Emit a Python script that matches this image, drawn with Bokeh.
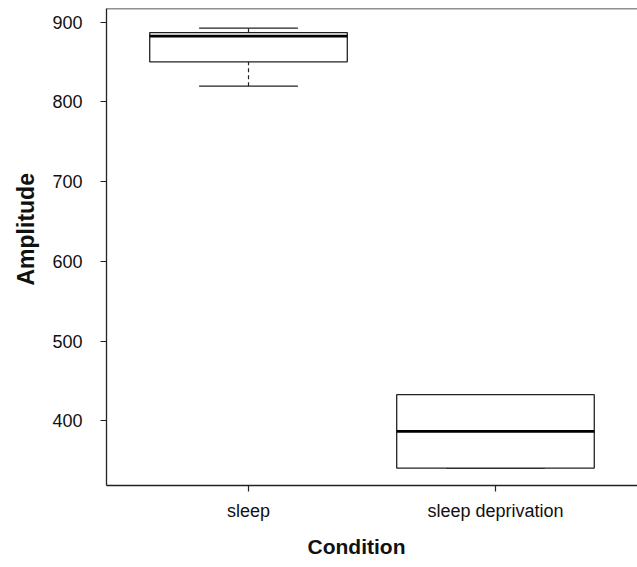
from bokeh.plotting import figure
from bokeh.models import ColumnDataSource, FactorRange, Range1d, Span, Title
from bokeh.transform import dodge
from bokeh.embed import file_html
from bokeh.resources import INLINE

categories = ["sleep", "sleep deprivation"]
q1 = [850.3, 340.6]
median = [882.5, 386.6]
q3 = [887.0, 432.6]
lower = [819.7, 340.6]
upper = [892.5, 432.6]
y_ticks = [400, 500, 600, 700, 800, 900]
x_title = "Condition"
y_title = "Amplitude"

src = ColumnDataSource(dict(cat=categories, q1=q1, median=median, q3=q3,
                            lower=lower, upper=upper))

p = figure(width=637, height=567, output_backend="svg", toolbar_location=None,
           x_range=FactorRange(factors=categories, range_padding=0.075,
                               range_padding_units="absolute"),
           y_range=Range1d(318.7, 917.2),
           min_border_left=106, min_border_right=0, min_border_top=8,
           min_border_bottom=82)
p.outline_line_color = None
p.xgrid.grid_line_color = None
p.ygrid.grid_line_color = None
p.background_fill_color = "white"
p.border_fill_color = "white"

FONT = "Liberation Sans"
for ax in (p.xaxis[0], p.yaxis[0]):
    ax.axis_line_color = "#222222"
    ax.axis_line_width = 1.3
    ax.major_tick_line_color = "#222222"
    ax.major_tick_line_width = 1.2
    ax.major_tick_in = 0
    ax.major_tick_out = 6
    ax.minor_tick_line_color = None
    ax.major_label_text_font = FONT
    ax.major_label_text_font_size = "18px"
    ax.major_label_text_color = "#111111"

p.yaxis.ticker = y_ticks
p.yaxis.major_label_standoff = 18
p.xaxis.major_label_standoff = 9

# top frame line
p.add_layout(Span(location=p.y_range.end, dimension="width",
                  line_color="#222222", line_width=1.3))

# whisker stems (dashed)
p.segment(x0="cat", x1="cat", y0="q3", y1="upper", source=src,
          line_color="#222222", line_width=1.2, line_dash="4 3")
p.segment(x0="cat", x1="cat", y0="lower", y1="q1", source=src,
          line_color="#222222", line_width=1.2, line_dash="4 3")
# caps
p.segment(x0=dodge("cat", -0.2, range=p.x_range), x1=dodge("cat", 0.2, range=p.x_range),
          y0="upper", y1="upper", source=src, line_color="#222222", line_width=1.2)
p.segment(x0=dodge("cat", -0.2, range=p.x_range), x1=dodge("cat", 0.2, range=p.x_range),
          y0="lower", y1="lower", source=src, line_color="#222222", line_width=1.2)
# boxes
p.vbar(x="cat", width=0.8, bottom="q1", top="q3", source=src,
       fill_color="white", line_color="#222222", line_width=1.3)
# medians
p.segment(x0=dodge("cat", -0.4, range=p.x_range), x1=dodge("cat", 0.4, range=p.x_range),
          y0="median", y1="median", source=src, line_color="black", line_width=2.6)

# axis titles as side-panel titles
p.add_layout(Title(text=x_title, align="left", offset=201, standoff=19,
                   text_font=FONT, text_font_size="21px", text_font_style="bold",
                   text_color="#111111"), "below")
p.add_layout(Title(text=y_title, align="left", offset=200, standoff=21,
                   text_font=FONT, text_font_size="23px", text_font_style="bold",
                   text_color="#111111"), "left")

open("out.html", "w").write(file_html(p, INLINE))
